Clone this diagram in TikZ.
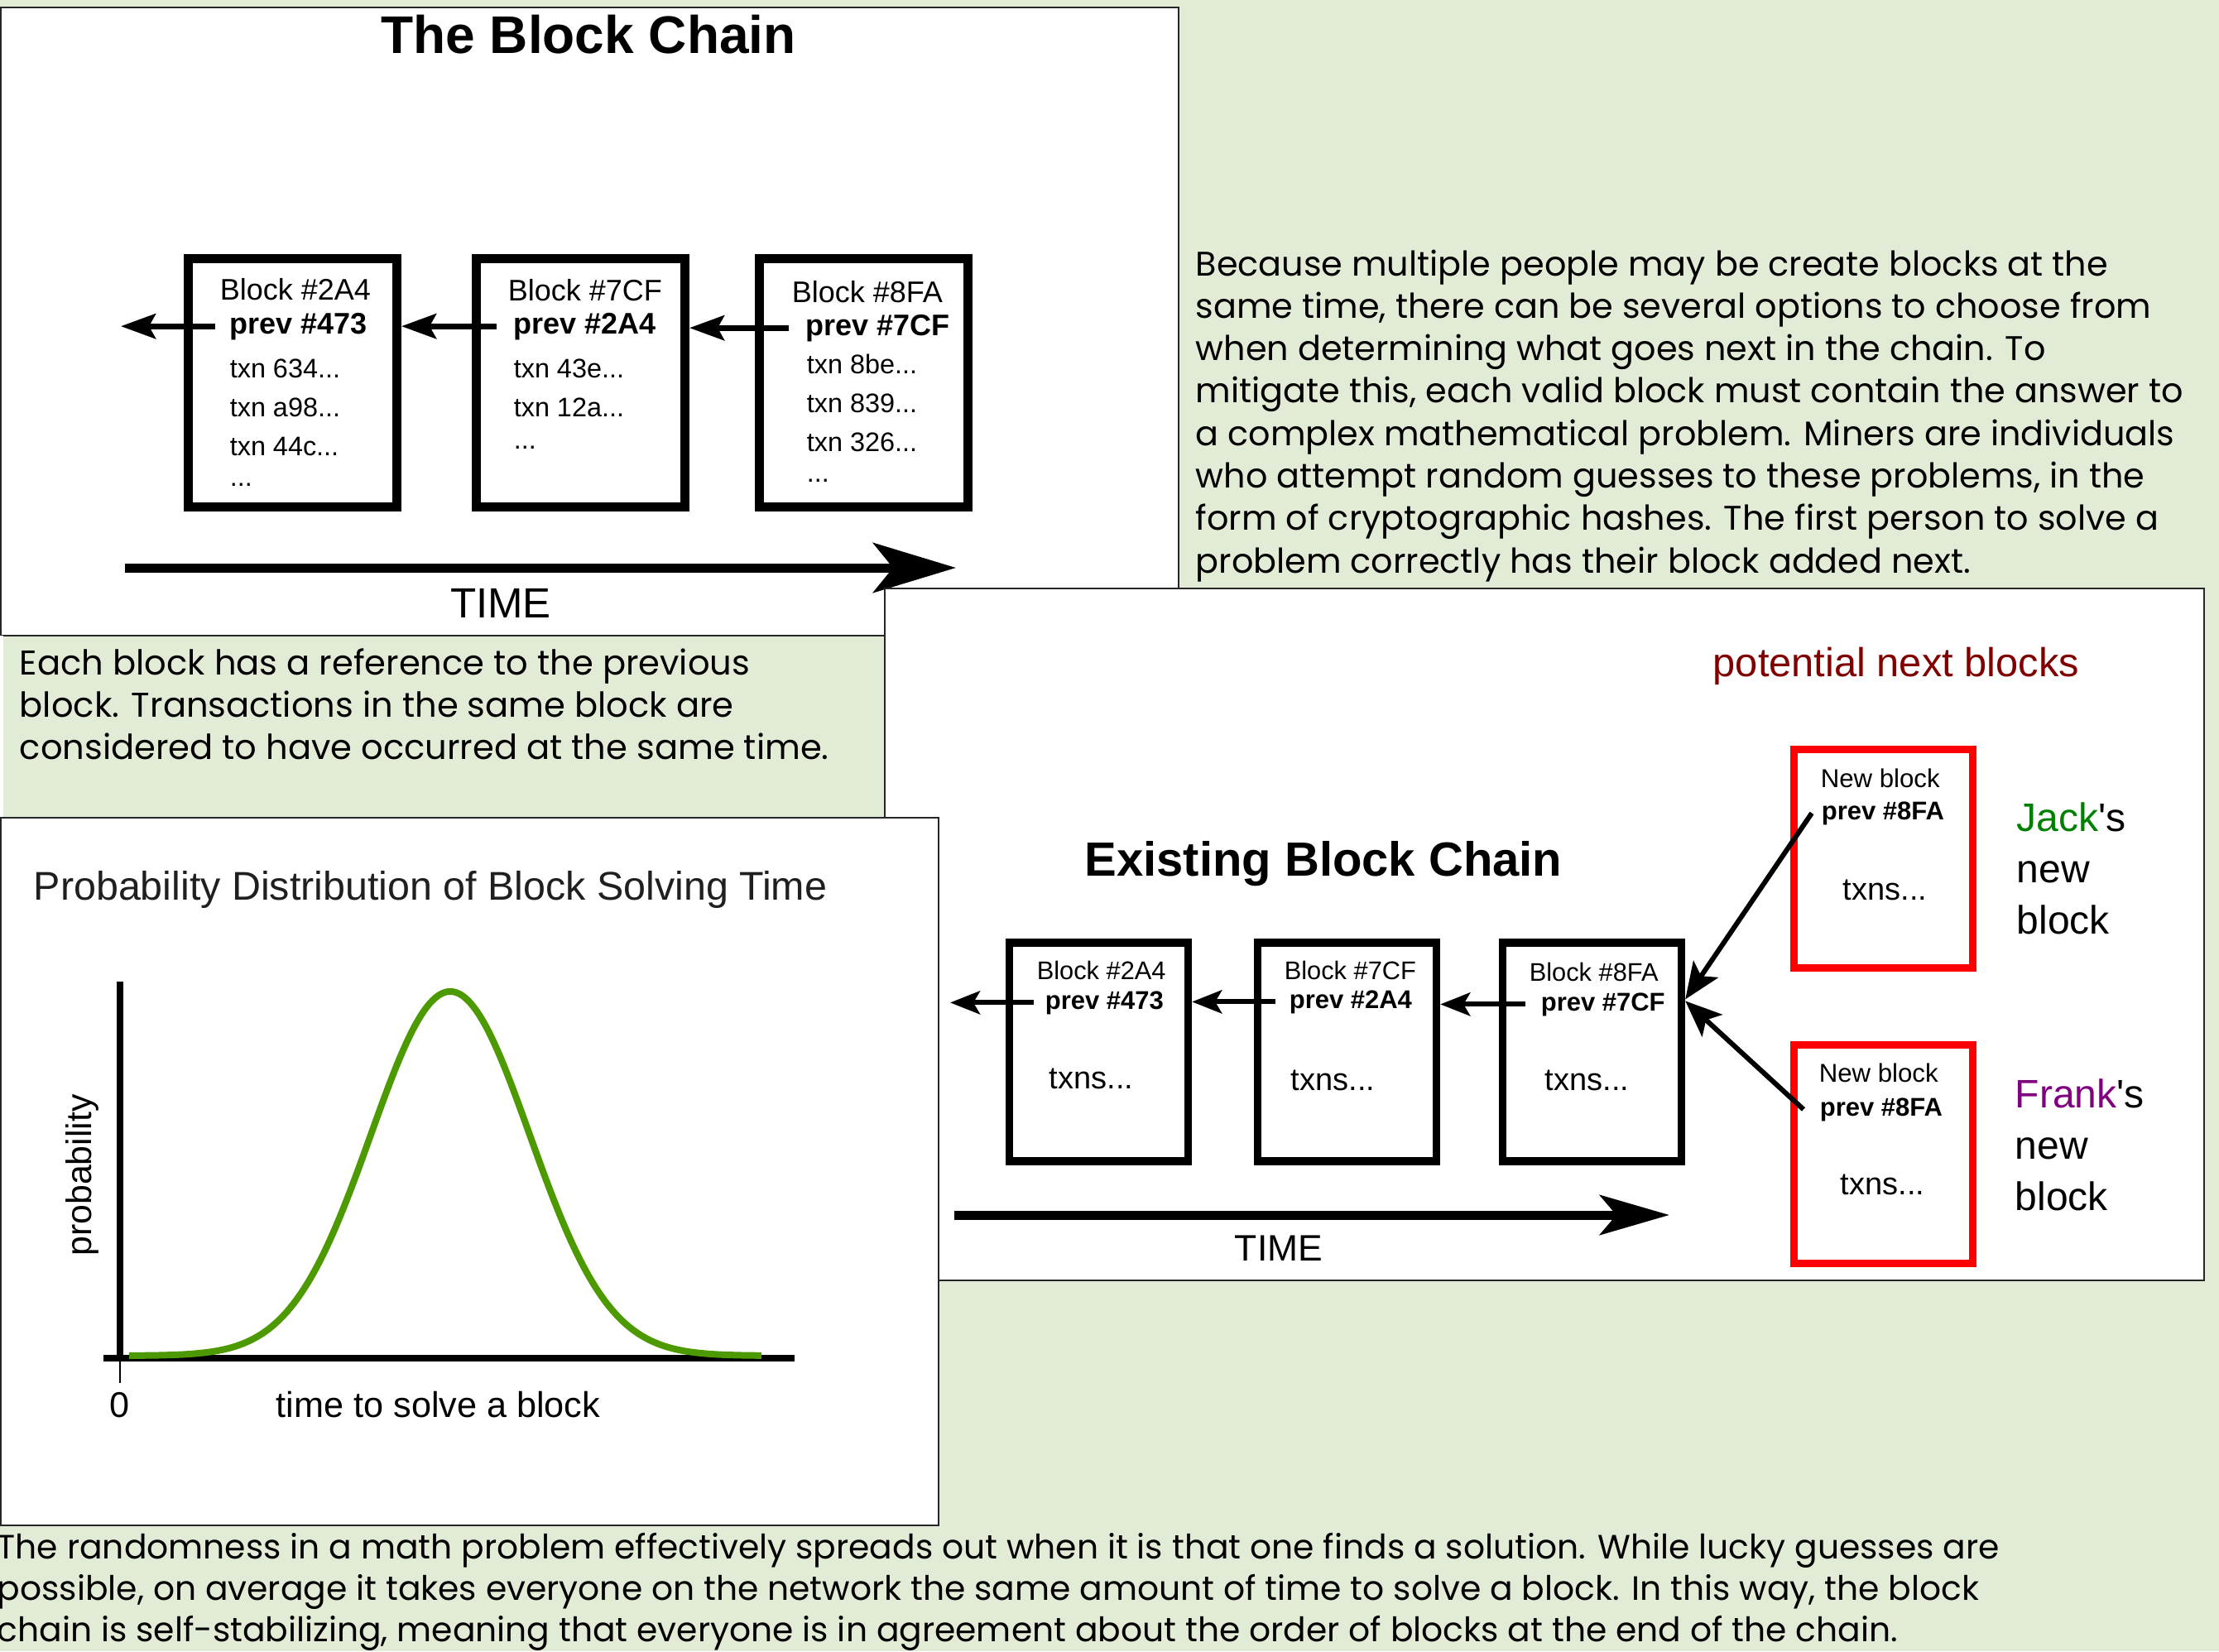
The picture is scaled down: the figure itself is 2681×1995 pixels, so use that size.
\documentclass[tikz,border=0pt]{standalone}
\usepackage{fontspec}
\setmainfont{Liberation Sans}
\newfontfamily\gothic{Poppins}
\usetikzlibrary{arrows.meta,positioning}
\definecolor{sage}{HTML}{E2EBD5}
\definecolor{jackgreen}{RGB}{0,128,0}
\definecolor{frankpurple}{RGB}{128,0,128}
\definecolor{darkmaroon}{RGB}{128,0,0}
\definecolor{curvegreen}{RGB}{76,154,0}
\tikzstyle{panel}=[draw=black!85,line width=0.5pt,fill=white]
\tikzstyle{oldblk}=[draw,line width=2.75pt,minimum width=63pt,minimum height=75pt,inner sep=0pt]
\tikzstyle{blk}=[draw,line width=2.35pt,minimum width=54pt,minimum height=66pt,inner sep=0pt]
\tikzstyle{newblk}=[blk,draw=red,line width=2.25pt]
\tikzstyle{txt}=[anchor=base west,inner sep=0pt]
\tikzstyle{para}=[txt,font=\gothic\fontsize{10.4}{12.75}\selectfont]
\tikzstyle{link}=[line width=1.75pt,-{Stealth[length=10.5pt,width=7.5pt,inset=2pt]}]
\tikzstyle{link2}=[line width=1.5pt,-{Stealth[length=9pt,width=7pt,inset=2pt]}]
\tikzstyle{link3}=[line width=1.5pt,-{Stealth[length=11pt,width=9pt,inset=2.5pt]}]
\tikzstyle{timeline}=[line width=2.75pt,-{Stealth[length=25pt,width=15pt,inset=6pt]}]

\begin{document}
\begin{tikzpicture}[x=0.25pt,y=-0.25pt,on grid]
  \path[use as bounding box,fill=sage] (0,0) rectangle (2681,1995);

  % the block chain
  \draw[panel] (1,9) rectangle (1424,768);
  \node[anchor=base,inner sep=0pt,font=\bfseries\fontsize{16}{19}\selectfont] (title1) at (711,64) {The Block Chain};
  \node[oldblk] (b1) at (353.5,462) {};
  \node[oldblk, right=87pt of b1] (b2) {};
  \node[oldblk, right=85.5pt of b2] (b3) {};
  % multi-line nodes sit on their last line
  \node[txt,font=\fontsize{9}{10}\selectfont] (b1h) at (265,362) {Block \#2A4};
  \node[txt,font=\bfseries\fontsize{9}{10}\selectfont] (b1t) at (277,403) {prev \#473};
  \node[txt,font=\fontsize{8.1}{11.75}\selectfont,align=left] (b1x) at (277,587) {txn 634...\\txn a98...\\txn 44c...\\[-2.5pt]...};
  \node[txt,font=\fontsize{9}{10}\selectfont] (b2h) at (613,363) {Block \#7CF};
  \node[txt,font=\bfseries\fontsize{9}{10}\selectfont] (b2t) at (620,403) {prev \#2A4};
  \node[txt,font=\fontsize{8.1}{11.75}\selectfont,align=left] (b2x) at (620,542) {txn 43e...\\txn 12a...\\[-2pt]...};
  \node[txt,font=\fontsize{9}{10}\selectfont] (b3h) at (956,365) {Block \#8FA};
  \node[txt,font=\bfseries\fontsize{9}{10}\selectfont] (b3t) at (973,405) {prev \#7CF};
  \node[txt,font=\fontsize{8.1}{11.75}\selectfont,align=left] (b3x) at (974,582) {txn 8be...\\txn 839...\\txn 326...\\[-2.5pt]...};
  \coordinate (b0) at (146,394);
  \draw[link] ([xshift=-4.25pt]b1t.west) -- (b0 |- b1t.west);
  \draw[link] ([xshift=-5pt]b2t.west) -- (b1.east |- b2t.west);
  \draw[link] ([xshift=-5pt]b3t.west) -- (b2.east |- b3t.west);
  \coordinate (t0) at (151,686);
  \coordinate (t1) at (1155,686);
  \draw[timeline] (t0) -- (t1);
  \node[anchor=base,inner sep=0pt,font=\fontsize{12.75}{15}\selectfont] (time1) at (605,746) {TIME};

  % notes beside the first chain
  \foreach \line [count=\i] in {
      {Because multiple people may be create blocks at the},
      {same time, there can be several options to choose from},
      {when determining what goes next in the chain. To},
      {mitigate this, each valid block must contain the answer to},
      {a complex mathematical problem. Miners are individuals},
      {who attempt random guesses to these problems, in the},
      {form of cryptographic hashes. The first person to solve a},
      {problem correctly has their block added next.}}
    \node[para,font=\gothic\fontsize{10.33}{12.75}\selectfont] (rp\i) at (1444,{333+51.3*(\i-1)}) {\line};

  % existing chain and two candidates
  \draw[panel] (1069,711) rectangle (2663,1547);
  \node[anchor=base,inner sep=0pt,font=\bfseries\fontsize{14.5}{17}\selectfont] (title2) at (1599,1058) {Existing Block Chain};
  \node[blk] (ba) at (1327.5,1271) {};
  \node[blk, right=75pt of ba] (bb) {};
  \node[blk, right=74pt of bb] (bc) {};
  \node[txt,font=\fontsize{7.7}{9}\selectfont] (bah) at (1252,1183) {Block \#2A4};
  \node[txt,font=\bfseries\fontsize{7.75}{9}\selectfont] (bat) at (1262,1219) {prev \#473};
  \node[txt,font=\fontsize{9.5}{11}\selectfont] (bax) at (1267,1315) {txns...};
  \node[txt,font=\fontsize{7.7}{9}\selectfont] (bbh) at (1551,1183) {Block \#7CF};
  \node[txt,font=\bfseries\fontsize{7.75}{9}\selectfont] (bbt) at (1557,1218) {prev \#2A4};
  \node[txt,font=\fontsize{9.5}{11}\selectfont] (bbx) at (1559,1317) {txns...};
  \node[txt,font=\fontsize{7.7}{9}\selectfont] (bch) at (1847,1185) {Block \#8FA};
  \node[txt,font=\bfseries\fontsize{7.75}{9}\selectfont] (bct) at (1861,1221) {prev \#7CF};
  \node[txt,font=\fontsize{9.5}{11}\selectfont] (bcx) at (1866,1317) {txns...};
  \coordinate (ba0) at (1148,1210);
  \draw[link2] ([xshift=-3.25pt]bat.west) -- (ba0 |- bat.west);
  \draw[link2] ([xshift=-4pt]bbt.west) -- (ba.east |- bbt.west);
  \draw[link2] ([xshift=-4.5pt]bct.west) -- (bb.east |- bct.west);
  \coordinate (t2) at (1153,1468);
  \coordinate (t3) at (2017,1468);
  \draw[timeline,-{Stealth[length=21pt,width=12pt,inset=5pt]}] (t2) -- (t3);
  \node[anchor=base,inner sep=0pt,font=\fontsize{11.1}{13}\selectfont] (time2) at (1545,1523) {TIME};

  \node[txt,font=\fontsize{12.2}{14}\selectfont,text=darkmaroon] (pnb) at (2069,817) {potential next blocks};
  \node[newblk] (nj) at (2275,1037) {};
  \node[newblk, below=89.4pt of nj] (nf) {};
  \node[txt,font=\fontsize{7.8}{9}\selectfont] (njh) at (2199,951) {New block};
  \node[txt,font=\bfseries\fontsize{7.75}{9}\selectfont] (njt) at (2200,990) {prev \#8FA};
  \node[txt,font=\fontsize{9.5}{11}\selectfont] (njx) at (2226,1087) {txns...};
  \node[txt,font=\fontsize{7.8}{9}\selectfont] (nfh) at (2197,1307) {New block};
  \node[txt,font=\bfseries\fontsize{7.75}{9}\selectfont] (nft) at (2198,1348) {prev \#8FA};
  \node[txt,font=\fontsize{9.5}{11}\selectfont] (nfx) at (2223,1443) {txns...};
  \draw[link3] ([xshift=-2.75pt]njt.west) -- ([yshift=1.5pt]bc.east |- bct.west);
  \draw[link3] ([xshift=-4.75pt]nft.west) -- ([yshift=1pt]bc.east |- bct.west);
  \node[txt,font=\fontsize{12}{15.5}\selectfont,align=left] (jack) at (2436,1128) {\textcolor{jackgreen}{Jack}\textquotesingle s\\new\\block};
  \node[txt,font=\fontsize{12}{15.5}\selectfont,align=left] (frank) at (2434,1462) {\textcolor{frankpurple}{Frank}\textquotesingle s\\new\\block};

  % note under the first chain
  \draw[white,line width=1pt] (2,768) -- (2,988);
  \foreach \line [count=\i] in {
      {Each block has a reference to the previous},
      {block. Transactions in the same block are},
      {considered to have occurred at the same time.}}
    \node[para] (lp\i) at (23,{815+51*(\i-1)}) {\line};

  % solving time distribution
  \draw[panel] (1,988) rectangle (1134,1843);
  \node[txt,font=\fontsize{12.1}{14}\selectfont,text=black!88] (ptitle) at (40,1087) {Probability Distribution of Block Solving Time};
  \draw[line width=2pt] (145,1186) -- (145,1645);
  \draw[line width=2pt] (125,1641) -- (960,1641);
  \draw[line width=0.5pt] (145,1641) -- (145,1671);
  \draw[curvegreen,line width=2pt] plot[domain=156:920,samples=150,smooth] (\x,{1638-440*exp(-((\x-544)/96)^2/2)});
  \node[anchor=base,inner sep=0pt,font=\fontsize{10.8}{12}\selectfont] (zero) at (145,1712) {0};
  \node[txt,font=\fontsize{10.8}{12}\selectfont] (xlab) at (333,1712) {time to solve a block};
  \node[anchor=base,rotate=90,inner sep=0pt,font=\fontsize{10.7}{12}\selectfont] (ylab) at (110,1420) {probability};

  % closing note
  \foreach \line [count=\i] in {
      {The randomness in a math problem effectively spreads out when it is that one finds a solution. While lucky guesses are},
      {possible, on average it takes everyone on the network the same amount of time to solve a block. In this way, the block},
      {chain is self-stabilizing, meaning that everyone is in agreement about the order of blocks at the end of the chain.}}
    \node[para,font=\gothic\fontsize{10.2}{12.5}\selectfont] (bp\i) at (-4,{1883+50*(\i-1)}) {\line};
\end{tikzpicture}
\end{document}
